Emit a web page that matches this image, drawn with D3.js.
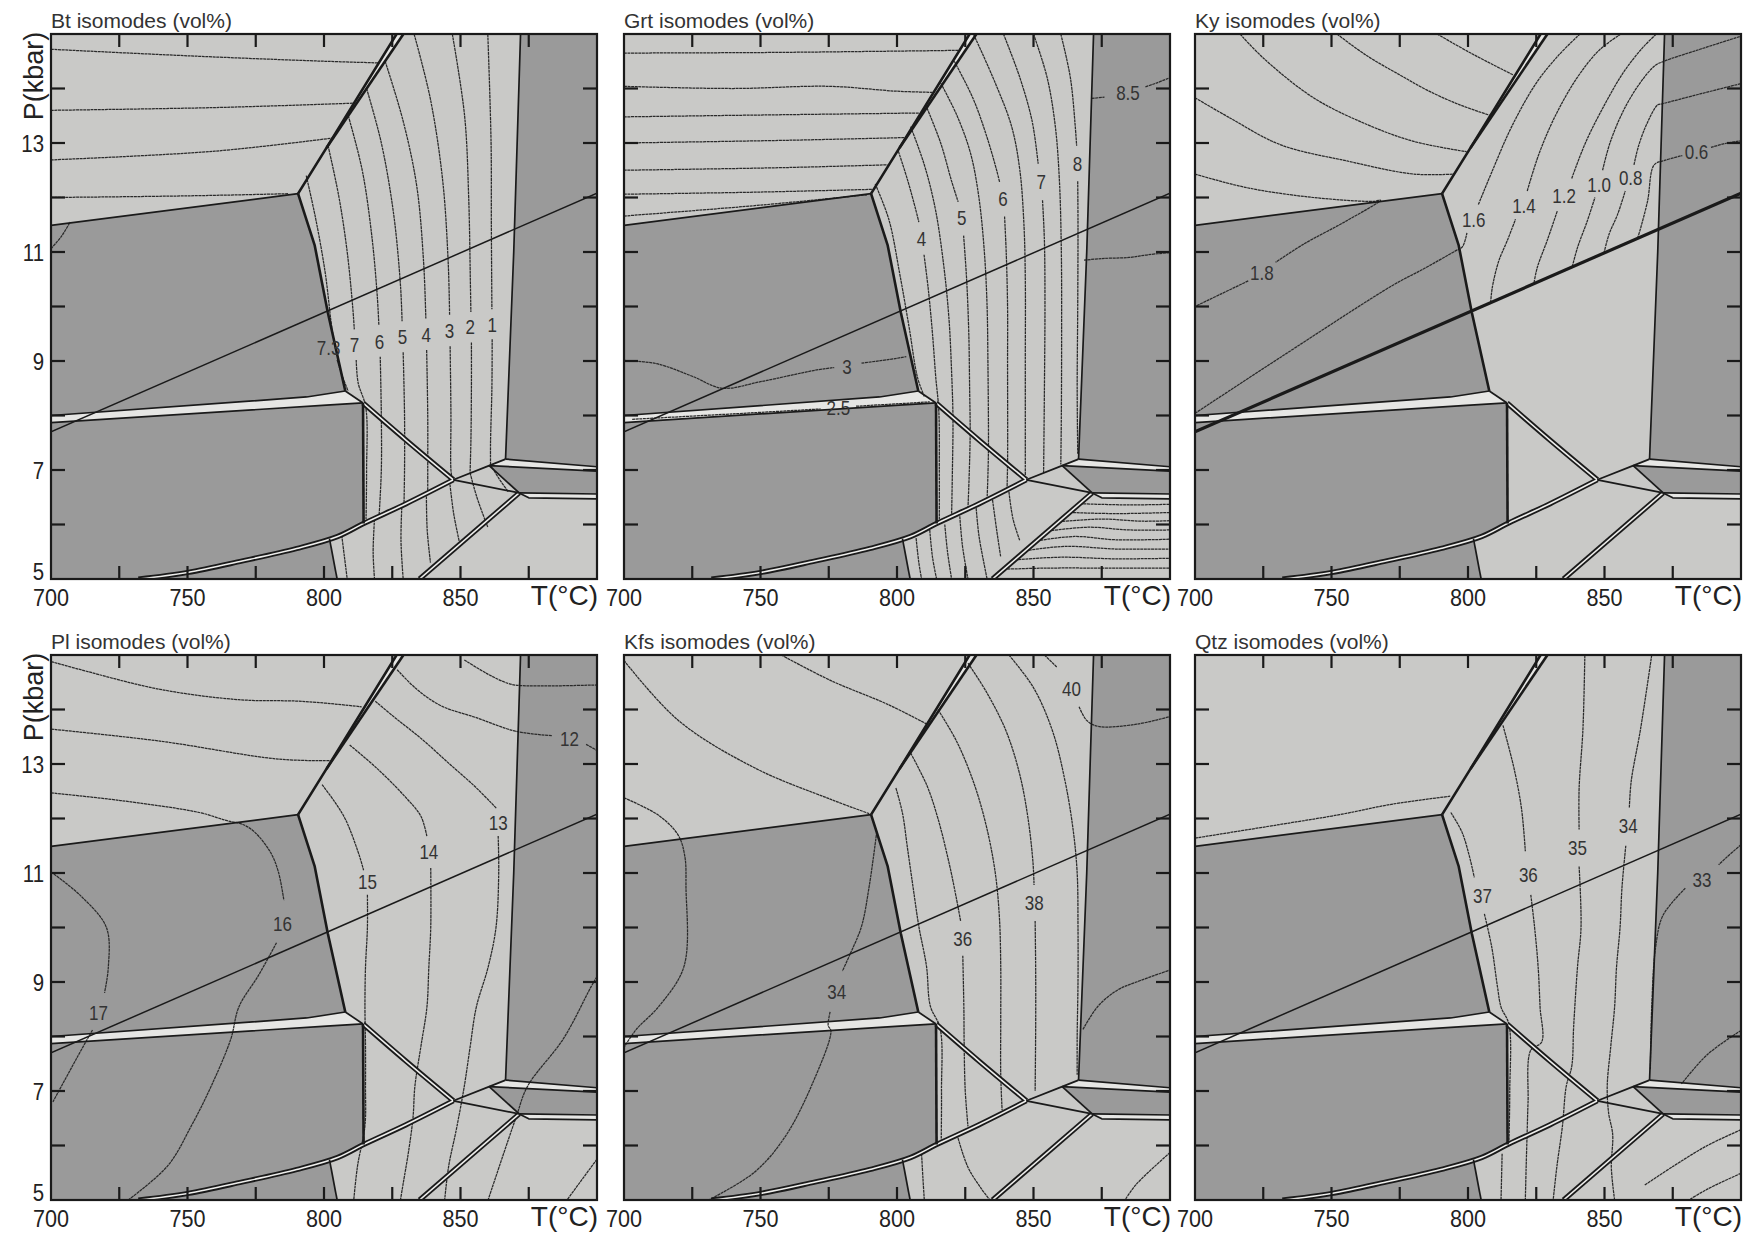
<!DOCTYPE html>
<html>
<head>
<meta charset="utf-8">
<script src="https://cdn.jsdelivr.net/npm/d3@7"></script>
<style>
  body { margin: 0; background: #fff; }
  svg { display: block; font-family: "Liberation Sans", Arial, sans-serif; }
</style>
</head>
<body>
<svg id="chart" width="1753" height="1233"></svg>
<script>
// ---------- axes ----------
const tempTicks = [700, 725, 750, 775, 800, 825, 850, 875, 900];
const tempLabels = [700, 750, 800, 850];
const presTicks = [5, 6, 7, 8, 9, 10, 11, 12, 13, 14, 15];
const presLabels = [5, 7, 9, 11, 13];
const titles = ["Bt isomodes (vol%)", "Grt isomodes (vol%)", "Ky isomodes (vol%)",
                "Pl isomodes (vol%)", "Kfs isomodes (vol%)", "Qtz isomodes (vol%)"];

// ---------- phase-field geometry, [T °C, P kbar] ----------
const curveLow = [[732,5],[750,5.12],[770,5.33],[790,5.56],[805,5.78],[815,6.03],[830,6.38],[847.4,6.82]];
const darkFields = [
  [[700,11.49],[790.5,12.07],[796.6,11.12],[801.4,9.89],[807.8,8.45],[793.6,8.34],[700,8.0]],
  [[700,7.87],[800.9,8.19],[814.3,8.23],[814.5,6.02],[805,5.78],[790,5.56],[770,5.33],[750,5.12],[732,5],[700,5]],
  [[732,5],[750,5.12],[770,5.33],[790,5.56],[802,5.74],[804.8,5]],
  [[872,15],[900,15],[900,7.06],[866.5,7.2],[869.5,11]],
  [[860.5,7.08],[900,6.98],[900,6.56],[871.5,6.58]]
];
const paleFields = [
  [[700,8.0],[793.6,8.34],[807.8,8.45],[814.3,8.23],[800.9,8.19],[700,7.87]],
  [[800.9,12.91],[826.6,15],[829.1,15]],
  [[866.5,7.2],[900,7.06],[900,6.98],[860.5,7.08]],
  [[871.5,6.58],[900,6.56],[900,6.47],[875,6.49]]
];
const heavyBounds = [
  [[790.5,12.07],[796.6,11.12],[801.4,9.89],[807.8,8.45]],
  [[790.5,12.07],[800.9,12.91],[826.6,15]],
  [[800.9,12.91],[829.1,15]],
  [[814.3,8.23],[814.5,6.02]]
];
const lightBounds = [
  [[700,11.49],[790.5,12.07]],
  [[700,8.0],[793.6,8.34],[807.8,8.45]],
  [[700,7.87],[800.9,8.19],[814.3,8.23]],
  [[807.8,8.45],[814.3,8.23]],
  [[872,15],[869.5,11],[866.5,7.2]],
  [[866.5,7.2],[900,7.06]],
  [[860.5,7.08],[900,6.98]],
  [[847.4,6.82],[860.5,7.08],[866.5,7.2]],
  [[860.5,7.08],[871.5,6.58]],
  [[847.4,6.82],[871.5,6.58]],
  [[871.5,6.58],[900,6.56]],
  [[871.5,6.58],[875,6.49],[900,6.47]],
  [[802,5.74],[804.8,5]]
];
const doubleBounds = [
  [[814.3,8.23],[830,7.55],[847.4,6.82]],
  curveLow,
  [[871.5,6.58],[835,5]]
];
const kySil = [[700,7.7],[900,12.08]];

// ---------- isomodes (v = label text, at = label position) ----------
const btIsomodes = [
  {pts:[[700,14.72],[750,14.6],[800,14.5],[820,14.47]]},
  {pts:[[700,13.6],[760,13.65],[810.5,13.73]]},
  {pts:[[700,12.69],[760,12.85],[803,13.09]]},
  {pts:[[700,12.0],[750,12.03],[787,12.07]]},
  {pts:[[700,11.06],[704,11.3],[707,11.55]]},
  {v:"7.3", at:[801.7,9.25], pts:[[793.5,12.4],[797,11.6],[800.5,10.6],[802.5,9.75],[803.2,9.5],null,[804.8,9.02],[806.3,8.78],[808.8,8.45]]},
  {v:"7", at:[811.2,9.29], pts:[[801.5,12.95],[805.5,12.0],[808.5,11.0],[810.5,10.0],[811.1,9.58],null,[811.8,9.02],[812.5,8.6],[815.3,8.15],[815.6,7.0],[815.4,6.1]]},
  {v:"6", at:[820.3,9.36], pts:[[808.9,13.5],[814,12.5],[817.5,11.3],[819.5,10.2],[820.1,9.65],null,[820.6,9.08],[821,8.0],[821,7.0],[820.2,6.18]]},
  {v:"5", at:[828.7,9.44], pts:[[815.6,14.0],[821,13.0],[825.5,11.7],[828,10.4],[828.6,9.73],null,[829,9.16],[829.5,8.0],[829.5,7.0],[829.3,6.36]]},
  {v:"4", at:[837.4,9.49], pts:[[822.4,14.5],[829,13.4],[834,12.2],[836.5,10.8],[837.3,9.78],null,[837.6,9.2],[838,8.0],[838,7.0],[838,6.58]]},
  {v:"3", at:[846,9.56], pts:[[833,15],[839,13.8],[843.5,12.3],[845.5,10.8],[846,9.85],null,[846.2,9.27],[846.5,8.0],[846.5,7.0],[847,6.82]]},
  {v:"2", at:[853.6,9.62], pts:[[847,15],[851.5,13.5],[853,12],[853.6,10.5],[853.8,9.9],null,[854,9.34],[854,8.5],[853.8,7.5],[853.5,6.95]]},
  {v:"1", at:[861.6,9.67], pts:[[860,15],[861.2,13],[861.3,11.5],[861.5,9.95],null,[861.6,9.4],[861.5,8.5],[861,7.5],[861,7.1]]},
  {pts:[[806.5,5.8],[807.5,5.4],[808.5,5.0]]},
  {pts:[[818.5,6.1],[818,5.5],[818.5,5.0]]},
  {pts:[[828.5,6.32],[828.2,5.7],[829,5.0]]},
  {pts:[[837.5,6.58],[837.8,5.9],[839,5.3]]},
  {pts:[[846,6.8],[847.5,6.2],[849.5,5.7]]},
  {pts:[[853.5,6.95],[856,6.5],[860,5.95]]},
  {pts:[[861,7.1],[864,6.85],[867.5,6.6]]}
];

const grtIsomodes = [
  {pts:[[700,14.65],[750,14.66],[790,14.68],[822.5,14.7]]},
  {pts:[[700,14.04],[740,14.0],[775,14.04],[800,13.95],[813,13.93]]},
  {pts:[[700,13.48],[760,13.52],[808,13.55]]},
  {pts:[[700,13.0],[760,13.05],[803,13.1]]},
  {pts:[[700,12.5],[760,12.55],[796.5,12.6]]},
  {pts:[[700,12.06],[750,12.1],[791,12.15]]},
  {pts:[[700,11.66],[750,11.86],[789,12.05]]},
  {pts:[[792,12.25],[797,11.6],[801,10.6],[804.5,9.6],[807.5,8.7],[810,8.35]]},
  {v:"4", at:[809,11.25], pts:[[800.5,12.85],[804,12.3],[807,11.75],[808,11.55],null,[809.9,10.95],[811.5,10.3],[813,9.5],[814.2,8.7],[815.3,8.1],[815.5,7.0],[815.5,6.1]]},
  {pts:[[805,13.3],[810,12.6],[814,11.8],[817,10.8],[819,9.8],[820,8.8],[820.5,7.95],[820.3,7.0],[820,6.17]]},
  {v:"5", at:[823.7,11.62], pts:[[810.5,13.7],[816,13.0],[820,12.3],[822.4,11.92],null,[824.4,11.3],[825.5,10.5],[826.3,9.5],[826.6,8.5],[826.8,7.7],[826.5,7.0],[826,6.3]]},
  {pts:[[816,14.1],[822,13.5],[827,12.8],[830,12.0],[832,11.0],[833,10.0],[833.3,9.0],[833.5,7.42],[833.3,6.9],[833,6.47]]},
  {v:"6", at:[838.8,11.97], pts:[[821,14.5],[828,13.8],[833,13.1],[836.5,12.5],[837.6,12.28],null,[839.4,11.65],[840,11],[840.5,10],[840.5,9],[840.5,7.12],[840.3,6.65]]},
  {pts:[[828,15],[836,14.1],[842,13.3],[845,12.5],[846.5,11.5],[847,10.5],[847,9],[847,6.9]]},
  {v:"7", at:[852.8,12.29], pts:[[839,15],[845,14.2],[849.5,13.4],[851.7,12.62],null,[853.3,11.95],[854,11.2],[854.2,10],[854,8.5],[853.7,6.95]]},
  {pts:[[850,15],[855,14.2],[858,13.3],[859.5,12.3],[860.2,11],[860.3,9.5],[860.2,8],[860,7.1]]},
  {v:"8", at:[866.1,12.62], pts:[[860,15],[863.5,14.2],[865.3,13.3],[865.8,12.95],null,[866.2,12.3],[866.3,11.5],[866.2,10],[866,8.5],[866.2,7.3]]},
  {pts:[[807,5.75],[808,5.3],[809,5.0]]},
  {pts:[[812,5.9],[813,5.4],[814.5,5.0]]},
  {pts:[[817.5,6.0],[818.5,5.5],[820,5.0]]},
  {pts:[[823,6.15],[824,5.6],[826,5.0]]},
  {pts:[[829,6.3],[830,5.8],[832,5.25],[833,5.0]]},
  {pts:[[835,6.45],[836.5,5.9],[838,5.4]]},
  {pts:[[841,6.6],[842.5,6.1],[845,5.7]]},
  {pts:[[867,6.38],[885,6.36],[900,6.37]]},
  {pts:[[863.2,6.22],[880,6.2],[900,6.22]]},
  {pts:[[859.3,6.05],[875,6.1],[890,6.06],[900,6.07]]},
  {pts:[[855.3,5.88],[870,5.95],[885,5.9],[900,5.9]]},
  {pts:[[851.2,5.7],[865,5.78],[880,5.72],[900,5.73]]},
  {pts:[[847,5.52],[862,5.6],[880,5.55],[900,5.55]]},
  {pts:[[843.1,5.35],[860,5.4],[880,5.37],[900,5.38]]},
  {pts:[[839.2,5.18],[855,5.2],[880,5.2],[900,5.2]]},
  {v:"3", at:[781.7,8.9], pts:[[700,9.01],[712,8.95],[725,8.72],[736,8.5],[750,8.62],[770,8.83],[777,8.88],null,[787,8.96],[800,9.05],[803.4,9.08]]},
  {v:"2.5", at:[778.5,8.14], pts:[[703,7.93],[740,8.03],[772,8.12],null,[785,8.17],[812,8.25]]},
  {v:"8.5", at:[884.6,13.93], pts:[[871.3,13.82],[876,13.84],null,[891,14.03],[895,14.1],[900,14.2]]},
  {pts:[[868.5,10.85],[875,10.88],[885,10.9],[892,10.95],[900,10.99]]}
];

const kyIsomodes = [
  {pts:[[716.5,15],[725,14.56],[743.4,13.83],[763,13.34],[780.1,13.03],[799.5,12.84]]},
  {pts:[[752,15],[763,14.6],[775,14.25],[785,13.97],[797,13.7],[808.5,13.5]]},
  {pts:[[788.7,15],[801,14.65],[816.5,14.25]]},
  {pts:[[700,13.83],[712.8,13.46],[731.2,12.97],[755.7,12.67],[780.1,12.43],[795,12.43]]},
  {v:"1.8", at:[724.5,10.62], pts:[[700,12.43],[719,12.18],[743.4,12.0],[765.4,11.93],[768,11.95],[755.1,11.56],[740,11.15],[729.5,10.81],null,[719.5,10.47],[700,10.0]]},
  {v:"1.6", at:[802.1,11.6], pts:[[700,8.04],[732,9.09],[772.8,10.4],[782.6,10.66],[795.4,11.02],[798,11.1],[799.6,11.35],null,[803.8,11.87],[809,12.5],[816,13.3],[825,14.1],[833,14.6],[841,15]]},
  {v:"1.4", at:[820.5,11.85], pts:[[808.3,10.07],[808.9,10.35],[811.3,10.84],[814.4,11.21],[817.4,11.6],null,[821.7,12.12],[826,12.8],[832,13.5],[840,14.2],[848,14.7],[856,15]]},
  {v:"1.2", at:[835.2,12.03], pts:[[824.2,10.44],[825.4,10.72],[829,11.21],[832.7,11.75],null,[838,12.35],[843,13.0],[850,13.7],[857,14.3],[864,14.75],[869,15]]},
  {v:"1.0", at:[848,12.24], pts:[[838.2,10.73],[840.1,11.08],[843.7,11.57],[846.5,12.0],null,[849.3,12.5],[852,13.0],[857,13.6],[863,14.1],[868.5,14.42],[871.8,14.5],[885,14.72],[900,14.96]]},
  {v:"0.8", at:[859.6,12.36], pts:[[849.8,10.98],[851.7,11.33],[854.8,11.69],[857.6,12.12],null,[860.8,12.6],[862.5,12.95],[865.5,13.35],[869.5,13.7],[871.2,13.72],[885,13.9],[900,14.09]]},
  {v:"0.6", at:[883.7,12.83], pts:[[862.1,11.25],[863.3,11.45],[865.8,11.94],[868.2,12.6],[872,12.68],[878.5,12.77],null,[889,12.92],[895,13.0],[900,13.04]]}
];

const plIsomodes = [
  {pts:[[700,14.88],[710.9,14.73],[739.9,14.37],[768.8,14.18],[792,14.15],[813.8,14.05]]},
  {pts:[[700,13.64],[739.9,13.42],[783.3,13.09],[802.2,13.06]]},
  {v:"16", at:[784.8,10.07], pts:[[700,12.47],[725.4,12.33],[754.3,12.11],[764.5,11.96],[770.3,11.89],[774.6,11.75],[780.4,11.38],[783.3,11.02],[785.3,10.5],null,[782.6,9.72],[776.1,9.13],[768.8,8.54],[765.9,7.96],[758.7,7.09],[751.4,6.36],[742.8,5.63],[728.3,5.0]]},
  {v:"17", at:[717.4,8.43], pts:[[700,11.02],[710.9,10.58],[720.3,10.0],[721,9.27],[719.6,8.8],null,[715.2,8.12],[709.4,7.6],[700.7,6.8]]},
  {v:"12", at:[889.9,13.46], pts:[[826.8,14.73],[834,14.37],[842.8,14.07],[855.8,13.85],[870.3,13.6],[883.5,13.52],null,[896,13.36],[900,13.25]]},
  {pts:[[851.4,14.91],[860,14.65],[867.4,14.48],[871.7,14.44],[900,14.45]]},
  {v:"13", at:[863.8,11.93], pts:[[818.8,14.15],[826,13.85],[836,13.45],[846,13.0],[855,12.6],[861,12.3],[863.3,12.18],null,[863.8,11.68],[864,11.0],[863,10.0],[860.1,9.27],[855.8,8.54],[853.5,7.8],[851.4,7.09],[848.5,6.3],[845.7,5.63],[844.2,5.0]]},
  {v:"14", at:[838.4,11.38], pts:[[809.4,13.35],[819.6,12.91],[829.7,12.4],[835.5,12.04],[837.7,11.67],null,[839.1,11.09],[839.1,10.0],[838.4,9.27],[837.7,8.54],[835.5,7.82],[833.3,7.09],[832.6,6.51],[831,5.9],[829,5.3],[828,5.0]]},
  {v:"15", at:[815.9,10.84], pts:[[799.3,12.62],[804,12.3],[808,11.97],[813,11.31],[814.5,11.05],null,[815.9,10.6],[815.9,10.0],[815.2,9.27],[815,8.54],[815.2,7.82],[815.2,7.09],[815,6.36],[812.3,5.63],[810.9,5.0]]},
  {pts:[[900,9.1],[897.8,8.91],[887.7,7.96],[874.6,7.09],[870.3,6.51],[860.1,5.0]]},
  {pts:[[900,5.75],[889,5.0]]}
];

const kfsIsomodes = [
  {pts:[[757.6,15],[775.8,14.53],[796.8,14.09],[811,13.73]]},
  {pts:[[700,14.9],[719.9,13.8],[747.8,12.93],[775.8,12.35],[789.8,12.09]]},
  {pts:[[700,12.38],[712.9,12.05],[719.9,11.69],[722.3,11.3],[722.7,10.75],[722,9.29],[712.9,8.56],[704.5,8.13],[700,7.8]]},
  {v:"34", at:[777.9,8.82], pts:[[792.6,11.76],[789.8,10.75],[787,10.02],[782.8,9.51],[780,9.2],null,[775.5,8.45],[774.8,8.2],[775.8,8.1],[768.8,7.11],[759,6.16],[747.8,5.51],[731,5.0]]},
  {pts:[[799.6,12.56],[802,12.1],[803.8,11.47],[806,10.7],[808,10.02],[810.8,9.29],[812.2,8.56],[815.8,8.15],[816.3,7.0],[816.2,6.1]]},
  {v:"36", at:[824.1,9.8], pts:[[805,13.2],[811,12.6],[815,12.0],[819,11.2],[821.5,10.6],[823.3,10.12],null,[824.1,9.48],[824.5,8.5],[824.6,7.85],[825,7.0],[826,6.35]]},
  {pts:[[815,14.0],[822,13.4],[828.5,12.6],[833,11.8],[836,11.0],[837.5,10.2],[838,9.3],[838,8.3],[838,7.3],[838.5,6.65]]},
  {v:"38", at:[850.3,10.45], pts:[[826,14.85],[833,14.3],[840,13.6],[845,12.8],[848,12.0],[849.8,11.2],[850.2,10.78],null,[850.6,10.12],[850.8,9.2],[850.8,8.2],[850.6,7.0]]},
  {pts:[[841,15],[850,14.4],[857,13.6],[861.5,12.7],[864.5,11.8],[866,11.0],[866.3,10],[866.3,9],[866,8],[866,7.3]]},
  {v:"40", at:[863.9,14.38], pts:[[854,15],[858.5,14.78],null,[866.7,14.05],[869.5,13.8],[873.7,13.69],[887.7,13.73],[900,13.87]]},
  {pts:[[868.1,8.13],[873.7,8.56],[880.7,8.85],[887.7,9.0],[900,9.22]]},
  {pts:[[900,5.87],[887.7,5.29],[883.5,5.0]]},
  {pts:[[809,5.85],[809.5,5.4],[810,5.0]]},
  {pts:[[822,6.2],[826,5.6],[831,5.2],[834,5.0]]}
];

const qtzIsomodes = [
  {pts:[[700,11.64],[731.1,11.89],[752.9,12.07],[771.9,12.26],[793.7,12.41]]},
  {v:"37", at:[805.3,10.58], pts:[[793.7,12.11],[797.8,11.75],[800.5,11.31],[802.3,10.92],null,[806,10.25],[808.7,9.64],[810.8,8.91],[812.1,8.54],[815,8.22],[815.3,7.0],[815,6.05]]},
  {pts:[[812.5,5.85],[812.1,5.0]]},
  {v:"36", at:[822.1,10.96], pts:[[812.8,13.71],[816.9,12.91],[819.6,12.18],[821,11.4],null,[823,10.6],[824.4,10],[825.7,9.27],[826.4,8.54],[827,7.9],[823,7.75],[822,6.8],[821.7,6.3],[821.3,5.6],[821,5.0]]},
  {v:"35", at:[840.1,11.46], pts:[[842.8,15],[842.1,13.64],[840.7,12.55],[840.7,11.8],null,[840.7,11.12],[841.4,10.0],[840.1,9.27],[838.7,8.18],[838,7.45],[836,7.09],[834.6,6.36],[832.6,5.63],[831.2,5.0]]},
  {v:"34", at:[858.7,11.86], pts:[[867.3,15],[863.2,13.64],[859.8,12.69],[859.1,12.2],null,[857.8,11.5],[856.4,10.73],[855.7,10.0],[854.4,9.27],[853.7,8.54],[852.3,7.82],[851,7.09],[851.5,6.6],[853,6.2],[852.5,5.6],[853.7,5.0]]},
  {v:"33", at:[885.7,10.87], pts:[[900,11.52],[895,11.3],[891.8,11.15],null,[879.6,10.72],[871.4,10.22],[868.7,9.63],[867.3,8.54],[866.8,7.4]]},
  {pts:[[900,8.11],[887.7,7.67],[878.2,7.13]]},
  {pts:[[900,6.29],[887.7,6.0],[875.5,5.63],[864.6,5.27]]},
  {pts:[[900,5.49],[887.7,5.2],[880.9,5.0]]}
];

// ---------- layout ----------
const W = 546, H = 545;
const colX = [51, 624, 1195];
const rowY = [34, 655];
const LIGHT = "#c9c9c7", DARK = "#9a9a9a", PALE = "#e6e6e4", INK = "#1a1a1a";

const panels = [
  {title: titles[0], iso: btIsomodes,  c: 0, r: 0, yAxis: true,  kyBold: false},
  {title: titles[1], iso: grtIsomodes, c: 1, r: 0, yAxis: false, kyBold: false},
  {title: titles[2], iso: kyIsomodes,  c: 2, r: 0, yAxis: false, kyBold: true},
  {title: titles[3], iso: plIsomodes,  c: 0, r: 1, yAxis: true,  kyBold: false},
  {title: titles[4], iso: kfsIsomodes, c: 1, r: 1, yAxis: false, kyBold: false},
  {title: titles[5], iso: qtzIsomodes, c: 2, r: 1, yAxis: false, kyBold: false}
];

const x = d3.scaleLinear().domain([700, 900]).range([0, W]);
const y = d3.scaleLinear().domain([5, 15]).range([H, 0]);
const straight = d3.line().x(d => x(d[0])).y(d => y(d[1]));
const smooth = d3.line().defined(d => d !== null).x(d => x(d[0])).y(d => y(d[1]))
  .curve(d3.curveCatmullRom.alpha(0.5));
const polygon = pts => straight(pts) + "Z";

const svg = d3.select("#chart");

panels.forEach((p, i) => {
  const g = svg.append("g").attr("transform", `translate(${colX[p.c]},${rowY[p.r]})`);
  g.append("clipPath").attr("id", "clip" + i)
    .append("rect").attr("width", W).attr("height", H);
  const plot = g.append("g").attr("clip-path", `url(#clip${i})`);

  // fields
  plot.append("rect").attr("width", W).attr("height", H).attr("fill", LIGHT);
  plot.selectAll("path.dark").data(darkFields).join("path").attr("class", "dark")
    .attr("d", polygon).attr("fill", DARK);
  plot.selectAll("path.pale").data(paleFields).join("path").attr("class", "pale")
    .attr("d", polygon).attr("fill", PALE);

  // isomodes
  plot.selectAll("path.iso").data(p.iso).join("path").attr("class", "iso")
    .attr("d", d => smooth(d.pts))
    .attr("fill", "none").attr("stroke", "#2a2a2a").attr("stroke-width", 1.25)
    .attr("stroke-dasharray", "3 0.6");

  // reaction lines
  plot.selectAll("path.dbl").data(doubleBounds).join("path").attr("class", "dbl")
    .attr("d", d => smooth(d)).attr("fill", "none").attr("stroke", INK)
    .attr("stroke-width", 5.2).attr("stroke-linejoin", "round");
  plot.selectAll("path.dblIn").data(doubleBounds).join("path").attr("class", "dblIn")
    .attr("d", d => smooth(d)).attr("fill", "none").attr("stroke", "#eeeeec")
    .attr("stroke-width", 1.6);
  plot.selectAll("path.lb").data(lightBounds).join("path").attr("class", "lb")
    .attr("d", straight).attr("fill", "none").attr("stroke", INK)
    .attr("stroke-width", 1.7).attr("stroke-linejoin", "round");
  plot.selectAll("path.hb").data(heavyBounds).join("path").attr("class", "hb")
    .attr("d", straight).attr("fill", "none").attr("stroke", INK)
    .attr("stroke-width", 2.6).attr("stroke-linejoin", "round");
  plot.append("path").attr("d", straight(kySil)).attr("fill", "none")
    .attr("stroke", INK).attr("stroke-width", p.kyBold ? 3.2 : 1.5);

  // isomode labels
  plot.selectAll("text.lab").data(p.iso.filter(d => d.v)).join("text").attr("class", "lab")
    .attr("transform", d => `translate(${x(d.at[0])},${y(d.at[1])}) scale(0.85,1)`)
    .attr("text-anchor", "middle").attr("dy", "0.36em")
    .attr("font-size", 20).attr("fill", "#333")
    .text(d => d.v);

  // frame and ticks
  g.append("rect").attr("width", W).attr("height", H)
    .attr("fill", "none").attr("stroke", INK).attr("stroke-width", 2.2);
  const tk = g.append("g").attr("stroke", INK).attr("stroke-width", 2.2);
  tempTicks.slice(1, -1).forEach(t => {
    tk.append("line").attr("x1", x(t)).attr("x2", x(t)).attr("y1", 0).attr("y2", 13);
    tk.append("line").attr("x1", x(t)).attr("x2", x(t)).attr("y1", H).attr("y2", H - 13);
  });
  presTicks.slice(1, -1).forEach(v => {
    tk.append("line").attr("x1", 0).attr("x2", 14).attr("y1", y(v)).attr("y2", y(v));
    tk.append("line").attr("x1", W).attr("x2", W - 14).attr("y1", y(v)).attr("y2", y(v));
  });

  // tick labels
  tempLabels.forEach(t => {
    g.append("text").attr("transform", `translate(${x(t)},${H + 27}) scale(0.9,1)`)
      .attr("text-anchor", "middle").attr("font-size", 24).attr("fill", "#222").text(t);
  });
  g.append("text").attr("x", W + 1).attr("y", H + 26).attr("text-anchor", "end")
    .attr("font-size", 28).attr("fill", "#222").text("T(°C)");
  if (p.yAxis) {
    presLabels.forEach(v => {
      const yy = v === 5 ? H + 1 : y(v);
      g.append("text").attr("transform", `translate(-7,${yy}) scale(0.85,1)`)
        .attr("text-anchor", "end").attr("dy", v === 5 ? "0" : "0.36em")
        .attr("font-size", 24).attr("fill", "#222").text(v);
    });
    g.append("text").attr("transform", `translate(-8,42) rotate(-90)`)
      .attr("text-anchor", "middle").attr("font-size", 27).attr("fill", "#222").text("P(kbar)");
  }
  g.append("text").attr("x", 0).attr("y", -6).attr("font-size", 21).attr("fill", "#333")
    .text(p.title);
});
</script>
</body>
</html>
